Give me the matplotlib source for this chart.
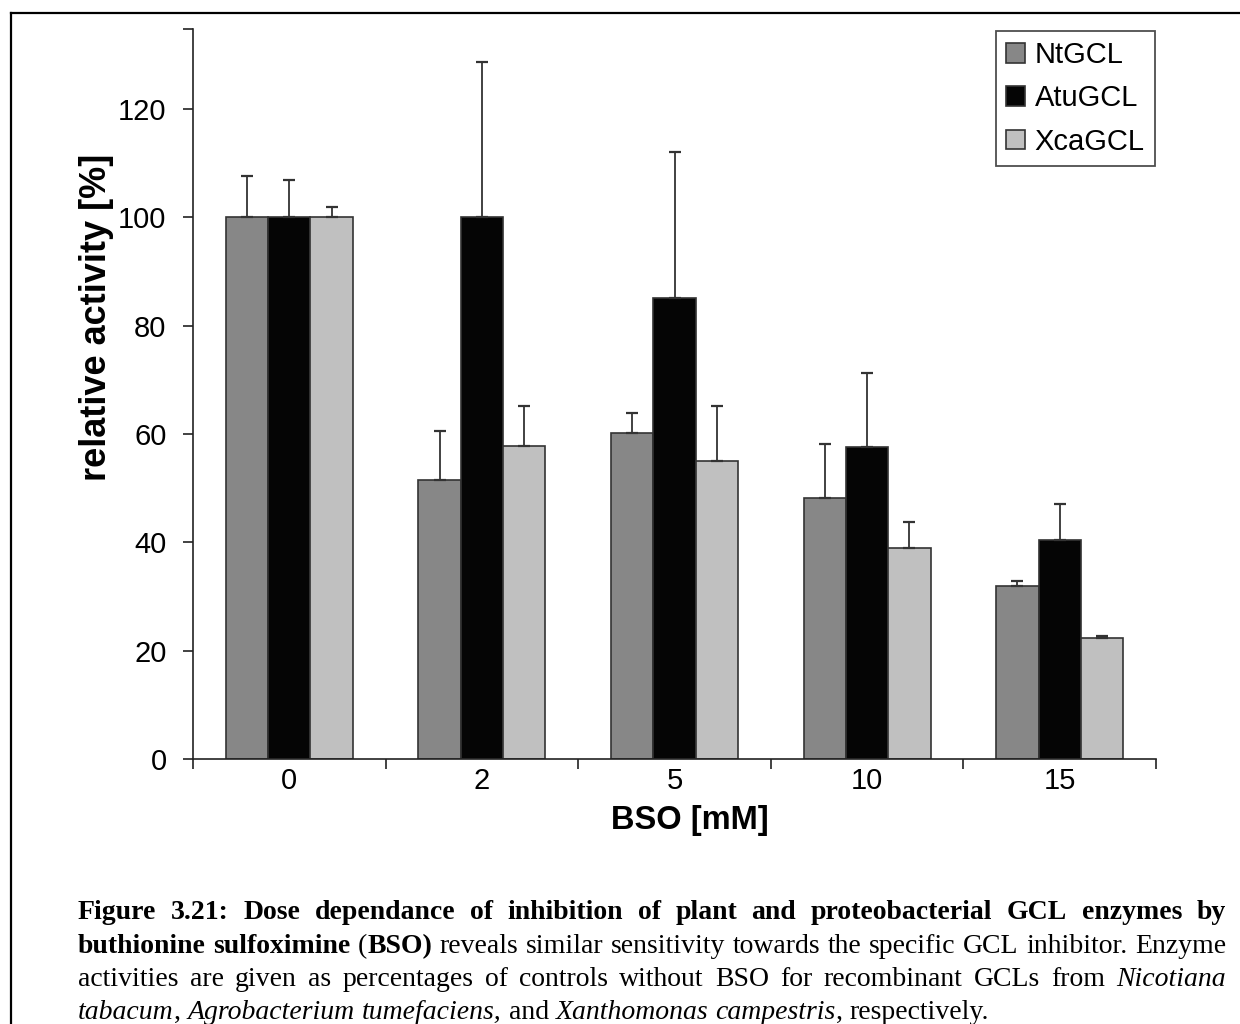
"""Relative GCL activity under increasing BSO, grouped bars with SD whiskers."""

import matplotlib

matplotlib.use("Agg")
import matplotlib.pyplot as plt  # noqa: E402
import numpy as np  # noqa: E402
from matplotlib.lines import Line2D  # noqa: E402
from matplotlib.patches import Patch  # noqa: E402

# ---------- data -----------------------------------------------------------

bso_mM = ["0", "2", "5", "10", "15"]
enzymes = ["NtGCL", "AtuGCL", "XcaGCL"]

nt_mean = [100.0, 51.6, 60.2, 48.2, 31.9]
nt_sd = [7.6, 9.0, 3.7, 10.0, 1.0]
atu_mean = [100.0, 100.1, 85.2, 57.7, 40.4]
atu_sd = [7.0, 28.6, 26.9, 13.5, 6.6]
xca_mean = [100.0, 57.8, 55.1, 38.9, 22.3]
xca_sd = [1.9, 7.3, 10.0, 4.8, 0.4]

y_ticks = [0, 20, 40, 60, 80, 100, 120]

caption_lines = [
    [[("Figure", "b")], [("3.21:", "b")], [("Dose", "b")], [("dependance", "b")],
     [("of", "b")], [("inhibition", "b")], [("of", "b")], [("plant", "b")],
     [("and", "b")], [("proteobacterial", "b")], [("GCL", "b")],
     [("enzymes", "b")], [("by", "b")]],
    [[("buthionine", "b")], [("sulfoximine", "b")], [("(", "r"), ("BSO)", "b")],
     [("reveals", "r")], [("similar", "r")], [("sensitivity", "r")],
     [("towards", "r")], [("the", "r")], [("specific", "r")], [("GCL", "r")],
     [("inhibitor.", "r")], [("Enzyme", "r")]],
    [[(w, "r")] for w in "activities are given as percentages of controls "
     "without BSO for recombinant GCLs from".split()] + [[("Nicotiana", "i")]],
    [[("tabacum", "i"), (",", "r")], [("Agrobacterium", "i")],
     [("tumefaciens,", "i")], [("and", "r")], [("Xanthomonas", "i")],
     [("campestris", "i"), (",", "r")], [("respectively.", "r")]],
]

# ---------- plotting -------------------------------------------------------

W, H = 1240, 1024
colors = ["#878787", "#050505", "#c0c0c0"]
edge = "#333333"
sans = "Liberation Sans"
serif = "Liberation Serif"

fig = plt.figure(figsize=(W / 100, H / 100), dpi=100)
fig.patch.set_facecolor("white")
ax = fig.add_axes([193 / W, 1 - 759 / H, 963 / W, 730 / H])

x = np.arange(len(bso_mM))
width = 0.22
series = [(nt_mean, nt_sd), (atu_mean, atu_sd), (xca_mean, xca_sd)]
for i, ((mean, sd), col) in enumerate(zip(series, colors)):
    pos = x + (i - 1) * width
    ax.bar(pos, mean, width=width, color=col, edgecolor=edge,
           linewidth=1.2, zorder=2)
    ax.errorbar(pos, mean, yerr=[np.zeros(len(sd)), sd], fmt="none",
                ecolor=edge, elinewidth=1.3, capsize=4.2, capthick=1.6,
                zorder=3)

ax.set_xlim(-0.5, len(bso_mM) - 0.5)
ax.set_ylim(0, 134.8)
for side in ("top", "right"):
    ax.spines[side].set_visible(False)
for side in ("left", "bottom"):
    ax.spines[side].set_color("#222222")
    ax.spines[side].set_linewidth(1.2)

ax.set_xticks(x)
ax.set_xticklabels(bso_mM, fontsize=21, family=sans)
ax.set_xticks(np.arange(-0.5, len(bso_mM)), minor=True)
ax.tick_params(axis="x", which="major", length=0, pad=6)
ax.tick_params(axis="x", which="minor", length=7, width=1.2,
               color="#222222", direction="out")

ax.set_yticks(y_ticks)
ax.set_yticklabels([str(v) for v in y_ticks], fontsize=21, family=sans)
ax.set_yticks([134.8], minor=True)
ax.tick_params(axis="y", which="both", length=7, width=1.2,
               color="#222222", direction="out", pad=12)

fig.text(690 / W, 1 - 821 / H, "BSO [mM]", fontsize=23.5, fontweight="bold",
         family=sans, ha="center", va="center")
fig.text(97 / W, 1 - 317 / H, "relative activity [%]", fontsize=26,
         fontweight="bold", family=sans, ha="center", va="center",
         rotation=90)

handles = [Patch(facecolor=c, edgecolor=edge, linewidth=1.2) for c in colors]
leg = fig.legend(handles, enzymes, loc="upper right",
                 bbox_to_anchor=(1155 / W, 1 - 31 / H), borderaxespad=0,
                 prop={"family": sans, "size": 21}, frameon=True,
                 fancybox=False, edgecolor="#222222", handlelength=0.65,
                 handleheight=0.65, handletextpad=0.34, labelspacing=0.52,
                 borderpad=0.35)
leg.get_frame().set_linewidth(1.3)

# frame round chart and caption
fig.add_artist(Line2D([11 / W, 11 / W], [0, 1 - 13 / H], color="black",
                      linewidth=1.6, transform=fig.transFigure))
fig.add_artist(Line2D([11 / W, 1], [1 - 13 / H, 1 - 13 / H], color="black",
                      linewidth=1.6, transform=fig.transFigure))

# ---------- caption --------------------------------------------------------

styles = {
    "b": {"family": serif, "fontweight": "bold"},
    "r": {"family": serif},
    "i": {"family": serif, "fontstyle": "italic"},
}
cap_size = 20
renderer = fig.canvas.get_renderer()


def _width(text, style):
    t = fig.text(0, 0, text, fontsize=cap_size, **styles[style])
    w = t.get_window_extent(renderer).width
    t.remove()
    return w


space = _width("a a", "r") - _width("aa", "r")
x_left, x_right = 78, 1226
baselines = [919, 953, 986, 1019]

for n, (words, base) in enumerate(zip(caption_lines, baselines)):
    run_w = [[_width(s, st) for s, st in word] for word in words]
    word_w = [sum(r) for r in run_w]
    last = n == len(caption_lines) - 1
    gap = space if last else (x_right - x_left - sum(word_w)) / (len(words) - 1)
    cx = x_left
    for word, widths in zip(words, run_w):
        for (s, st), w in zip(word, widths):
            fig.text(cx / W, 1 - base / H, s, fontsize=cap_size, ha="left",
                     va="baseline", **styles[st])
            cx += w
        cx += gap

fig.savefig("out.png", dpi=100)
plt.close(fig)
